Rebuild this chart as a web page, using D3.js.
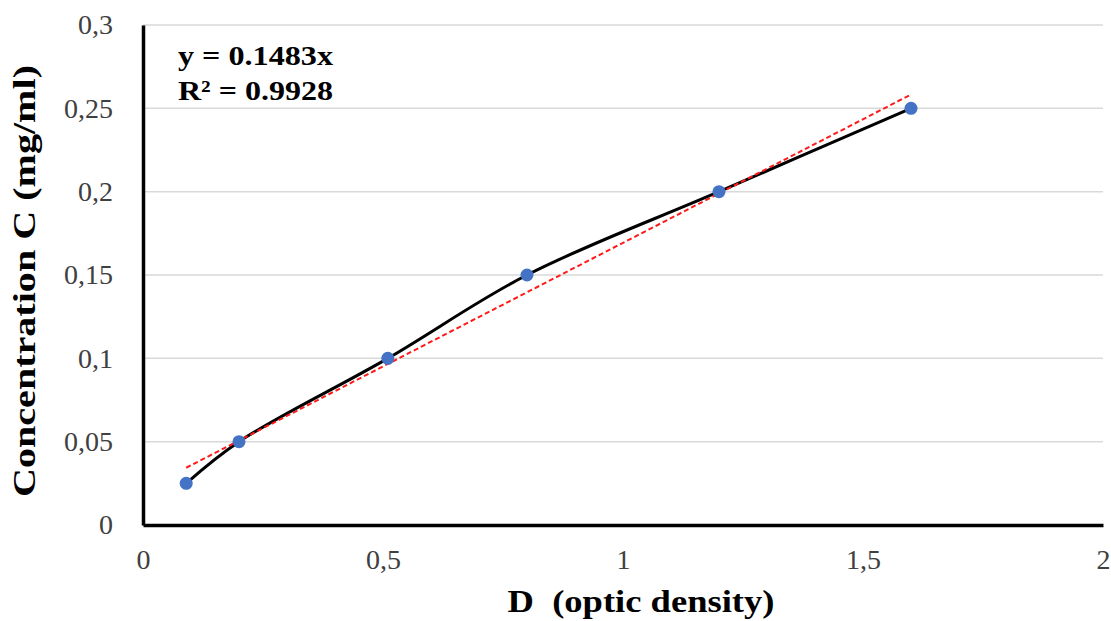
<!DOCTYPE html>
<html lang="en">
<head>
    <meta charset="UTF-8">
    <title>Calibration curve</title>
    <script src="https://d3js.org/d3.v7.min.js"></script>
    <style>
        body { margin: 0; background: #fff; }
        svg text { font-family: "Liberation Serif", "DejaVu Serif", serif; }
    </style>
</head>
<body>
    <div id="chart"></div>
    <script>
        // data
        const density = [0.09, 0.2, 0.51, 0.8, 1.2, 1.6];
        const concentration = [0.025, 0.05, 0.1, 0.15, 0.2, 0.25];
        const xTicks = [0, 0.5, 1, 1.5, 2];
        const yTicks = [0, 0.05, 0.1, 0.15, 0.2, 0.25, 0.3];
        // linear trendline as it is drawn
        const trendSlope = 0.1483;
        const trendIntercept = 0.021;
        const trendRange = [0.09, 1.6];
        const equationLines = ["y = 0.1483x", "R\u00b2 = 0.9928"];

        const width = 1111, height = 621;
        const margin = { top: 25, right: 8, bottom: 96, left: 143 };

        const svg = d3.select("#chart")
            .append("svg")
            .attr("width", width)
            .attr("height", height);

        const x = d3.scaleLinear()
            .domain([0, 2])
            .range([margin.left, width - margin.right]);

        const y = d3.scaleLinear()
            .domain([0, 0.3])
            .range([height - margin.bottom, margin.top]);

        const fmt = d => String(d).replace(".", ",");

        // horizontal grid lines
        svg.append("g")
            .selectAll("line")
            .data(yTicks.slice(1))
            .enter()
            .append("line")
            .attr("x1", x(0))
            .attr("x2", x(2))
            .attr("y1", d => y(d))
            .attr("y2", d => y(d))
            .attr("stroke", "#d9d9d9")
            .attr("stroke-width", 1.5);

        // Y axis
        const yAxis = svg.append("g")
            .attr("transform", `translate(${x(0)},0)`)
            .call(d3.axisLeft(y).tickValues(yTicks).tickFormat(fmt).tickSize(0).tickPadding(30));
        yAxis.select(".domain").attr("stroke", "#000").attr("stroke-width", 3.5);
        yAxis.selectAll("text")
            .attr("font-size", "28px")
            .attr("fill", "#404040")
            .style("font-family", "Liberation Serif");

        // X axis
        const xAxis = svg.append("g")
            .attr("transform", `translate(0,${y(0)})`)
            .call(d3.axisBottom(x).tickValues(xTicks).tickFormat(fmt).tickSize(0).tickPadding(24));
        xAxis.select(".domain").attr("stroke", "#000").attr("stroke-width", 3.5);
        xAxis.selectAll("text")
            .attr("font-size", "28px")
            .attr("fill", "#404040")
            .style("font-family", "Liberation Serif");

        const points = density.map((d, i) => ({ x: d, y: concentration[i] }));

        // smoothed series line
        const line = d3.line()
            .x(d => x(d.x))
            .y(d => y(d.y))
            .curve(d3.curveCatmullRom);

        svg.append("path")
            .datum(points)
            .attr("d", line)
            .attr("fill", "none")
            .attr("stroke", "#000")
            .attr("stroke-width", 3);

        // linear trendline
        const trend = trendRange.map(d => ({ x: d, y: trendSlope * d + trendIntercept }));
        svg.append("path")
            .datum(trend)
            .attr("d", d3.line().x(d => x(d.x)).y(d => y(d.y)))
            .attr("fill", "none")
            .attr("stroke", "#ff1a1a")
            .attr("stroke-width", 2)
            .attr("stroke-dasharray", "5,3");

        // markers
        svg.append("g")
            .selectAll("circle")
            .data(points)
            .enter()
            .append("circle")
            .attr("cx", d => x(d.x))
            .attr("cy", d => y(d.y))
            .attr("r", 6.5)
            .attr("fill", "#4472c4");

        // equation label
        svg.append("g")
            .selectAll("text")
            .data(equationLines)
            .enter()
            .append("text")
            .attr("x", 178)
            .attr("y", (d, i) => 65 + i * 35)
            .attr("font-size", "28px")
            .attr("font-weight", "bold")
            .attr("fill", "#000")
            .attr("textLength", 155)
            .attr("lengthAdjust", "spacingAndGlyphs")
            .text(d => d);

        // axis titles
        svg.append("text")
            .attr("x", 641)
            .attr("y", 612)
            .attr("text-anchor", "middle")
            .attr("font-size", "31px")
            .attr("font-weight", "bold")
            .attr("textLength", 267)
            .attr("lengthAdjust", "spacingAndGlyphs")
            .style("white-space", "pre")
            .text("D  (optic density)");

        svg.append("text")
            .attr("transform", "translate(35,281) rotate(-90)")
            .attr("text-anchor", "middle")
            .attr("font-size", "32px")
            .attr("font-weight", "bold")
            .attr("textLength", 432)
            .attr("lengthAdjust", "spacingAndGlyphs")
            .text("Concentration C (mg/ml)");
    </script>
</body>
</html>
